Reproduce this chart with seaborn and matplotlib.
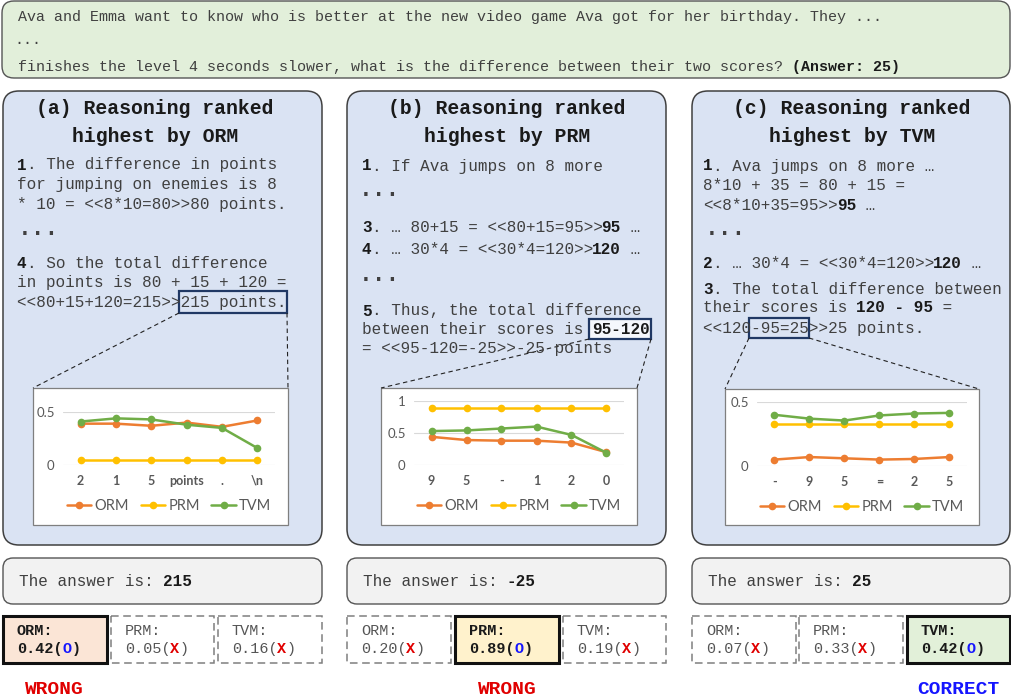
import numpy as np
import pandas as pd
import matplotlib
matplotlib.use('Agg')
import matplotlib.pyplot as plt
from matplotlib.patches import FancyBboxPatch, Rectangle
import seaborn as sns

# ---- values ----
models = ['ORM', 'PRM', 'TVM']
model_colors = ['#ED7D31', '#FFC000', '#70AD47']

tokens_a = ['2', '1', '5', 'points', '.', '\\n']
orm_a = [0.39, 0.39, 0.37, 0.40, 0.36, 0.42]
prm_a = [0.05, 0.05, 0.05, 0.05, 0.05, 0.05]
tvm_a = [0.41, 0.44, 0.43, 0.38, 0.35, 0.16]

tokens_b = ['9', '5', '-', '1', '2', '0']
orm_b = [0.44, 0.39, 0.38, 0.38, 0.35, 0.20]
prm_b = [0.89, 0.89, 0.89, 0.89, 0.89, 0.89]
tvm_b = [0.53, 0.54, 0.57, 0.60, 0.47, 0.19]

tokens_c = ['-', '9', '5', '=', '2', '5']
orm_c = [0.05, 0.07, 0.06, 0.05, 0.055, 0.07]
prm_c = [0.33, 0.33, 0.33, 0.33, 0.33, 0.33]
tvm_c = [0.40, 0.37, 0.355, 0.395, 0.41, 0.415]

final_a = [0.42, 0.05, 0.16]
final_b = [0.20, 0.89, 0.19]
final_c = [0.07, 0.33, 0.42]
answers = ['215', '-25', '25']
picked = [0, 1, 2]          # which model ranked that reasoning highest
verdicts = ['WRONG', 'WRONG', 'CORRECT']

sns.set_theme(style='white')
MONO = 'Liberation Mono'
plt.rcParams['font.family'] = ['Liberation Mono', 'DejaVu Sans Mono']

W, H = 1012, 700
fig = plt.figure(figsize=(W / 100, H / 100), dpi=100)
bg = fig.add_axes([0, 0, 1, 1])
bg.set_xlim(0, W)
bg.set_ylim(H, 0)
bg.axis('off')

REG = '#404040'
BOLD = '#1a1a1a'


def rbox(x0, y0, x1, y1, fc, ec, lw=1.0, r=14):
    bg.add_patch(FancyBboxPatch((x0, y0), x1 - x0, y1 - y0,
                                boxstyle=f'round,pad=0,rounding_size={r}',
                                fc=fc, ec=ec, lw=lw))


def put(x, y, parts, size, reg=REG, bold=BOLD, va='center'):
    # monospace: every char is 0.6 em wide, so segments can be chained
    cw = 0.6 * size * 100 / 72
    n = 0
    for p in parts:
        if isinstance(p, str):
            txt, b, col = p, False, reg
        else:
            txt, b = p[0], p[1]
            col = p[2] if len(p) > 2 else (bold if b else reg)
        bg.text(x + n * cw, y, txt, fontsize=size, fontfamily=MONO,
                fontweight='bold' if b else 'normal', color=col,
                ha='left', va=va)
        n += len(txt)


def dots(x, y):
    bg.text(x, y, '...', fontsize=16.5, fontfamily=MONO, fontweight='bold',
            color=REG, ha='left', va='baseline')


# ---- question box ----
rbox(2, 1, 1010, 78, '#E2EFDA', '#555555', lw=1.0, r=12)
put(18, 17, ['Ava and Emma want to know who is better at the new video game '
             'Ava got for her birthday. They ...'], 10.8)
put(14, 40, ['...'], 10.8)
put(18, 67, ['finishes the level 4 seconds slower, what is the difference '
             'between their two scores? ', ('(Answer: 25)', True)], 10.8)

# ---- reasoning panels ----
panel_x = [(3, 322), (347, 666), (692, 1010)]
title_cx = [155, 507, 852]
letters = ['a', 'b', 'c']
for (x0, x1), cx, let, m in zip(panel_x, title_cx, letters, models):
    rbox(x0, 91, x1, 545, '#DAE3F3', '#404040', lw=1.1, r=16)
    bg.text(cx, 108, f'({let}) Reasoning ranked', fontsize=14.2,
            fontfamily=MONO, fontweight='bold', color=BOLD, ha='center', va='center')
    bg.text(cx, 137, f'highest by {m}', fontsize=14.2,
            fontfamily=MONO, fontweight='bold', color=BOLD, ha='center', va='center')

BS = 11.5
# (a)
put(17, 165, [('1', True), '. The difference in points'], BS)
put(17, 185, ['for jumping on enemies is 8'], BS)
put(17, 204, ['* 10 = <<8*10=80>>80 points.'], BS)
dots(18, 235)
put(17, 263, [('4', True), '. So the total difference'], BS)
put(17, 283, ['in points is 80 + 15 + 120 ='], BS)
bg.add_patch(Rectangle((179, 291), 108, 22, fc='none', ec='#203864', lw=1.6))
put(17, 303, ['<<80+15+120=215>>215 points.'], BS)

# (b)
put(362, 166, [('1', True), '. If Ava jumps on 8 more'], BS)
dots(359, 196)
put(362, 227, [('3', True), '. … 80+15 = <<80+15=95>>', ('95', True), ' …'], BS)
put(362, 250, [('4', True), '. … 30*4 = <<30*4=120>>', ('120', True), ' …'], BS)
dots(359, 281)
put(362, 311, [('5', True), '. Thus, the total difference'], BS)
bg.add_patch(Rectangle((589, 319), 62, 20, fc='#F5F7FC', ec='#203864', lw=1.6))
put(362, 329, ['between their scores is ', ('95-120', True)], BS)
put(362, 349, ['= <<95-120=-25>>-25 points'], BS)

# (c)
put(703, 166, [('1', True), '. Ava jumps on 8 more …'], BS)
put(703, 185, ['8*10 + 35 = 80 + 15 ='], BS)
put(703, 205, ['<<8*10+35=95>>', ('95', True), ' …'], BS)
dots(705, 235)
put(703, 263, [('2', True), '. … 30*4 = <<30*4=120>>', ('120', True), ' …'], BS)
put(703, 290, [('3', True), '. The total difference between'], BS)
put(703, 308, ['their scores is ', ('120 - 95', True), ' ='], BS)
bg.add_patch(Rectangle((749, 318), 60, 20, fc='none', ec='#203864', lw=1.6))
put(703, 328, ['<<120-95=25>>25 points.'], BS)

# ---- zoomed token-level charts ----
frames = [(33, 388, 288, 525), (381, 388, 637, 525), (725, 389, 979, 525)]
connectors = [[(179, 313, 33, 388), (287, 313, 288, 388)],
              [(589, 339, 381, 388), (651, 339, 637, 388)],
              [(749, 338, 725, 389), (809, 338, 979, 389)]]
for (fx0, fy0, fx1, fy1), conn in zip(frames, connectors):
    bg.add_patch(Rectangle((fx0, fy0), fx1 - fx0, fy1 - fy0, fc='white',
                           ec='#7f7f7f', lw=0.9))
    for xa, ya, xb, yb in conn:
        bg.plot([xa, xb], [ya, yb], color='#222222', lw=0.8, ls=(0, (4, 3)))

charts = [
    (tokens_a, [orm_a, prm_a, tvm_a], (63, 412, 275, 465), [0, 0.5], ['0', '0.5'], 506),
    (tokens_b, [orm_b, prm_b, tvm_b], (414, 401, 624, 465), [0, 0.5, 1], ['0', '0.5', '1'], 506),
    (tokens_c, [orm_c, prm_c, tvm_c], (757, 402, 967, 466), [0, 0.5], ['0', '0.5'], 507),
]
palette = dict(zip(models, model_colors))
for tokens, series, (x0, y0, x1, y1), yt, ytl, leg_y in charts:
    ax = fig.add_axes([x0 / W, 1 - y1 / H, (x1 - x0) / W, (y1 - y0) / H])
    n = len(tokens)
    df = pd.DataFrame({
        'pos': np.tile(np.arange(n), len(models)),
        'score': np.concatenate(series),
        'model': np.repeat(models, n),
    })
    sns.lineplot(data=df, x='pos', y='score', hue='model', style='model',
                 palette=palette, markers=['o', 'o', 'o'], dashes=False,
                 markersize=5.5, markeredgewidth=0, linewidth=1.8, ax=ax)
    ax.patch.set_visible(False)
    ax.set_xlim(-0.5, n - 0.5)
    ax.set_ylim(0, yt[-1])
    ax.set_xticks(range(n))
    ax.set_xticklabels(tokens, fontfamily='Lato', fontweight='bold',
                       fontsize=9, color='#595959')
    ax.set_yticks(yt)
    ax.set_yticklabels(ytl, fontfamily='Lato', fontsize=9.5, color='#595959')
    ax.tick_params(length=0)
    ax.tick_params(axis='x', pad=7)
    ax.tick_params(axis='y', pad=6)
    ax.grid(axis='y', color='#d9d9d9', lw=0.8)
    ax.set_axisbelow(True)
    for s in ax.spines.values():
        s.set_visible(False)
    ax.set_xlabel('')
    ax.set_ylabel('')
    sns.move_legend(ax, 'center', bbox_to_anchor=(0.5, (y1 - leg_y) / (y1 - y0)),
                    ncol=3, frameon=False, title=None,
                    prop={'family': 'Lato', 'size': 10.5},
                    handlelength=1.7, handletextpad=0.2, columnspacing=0.8)
    for t in ax.get_legend().get_texts():
        t.set_color('#595959')

# ---- final answers and scores ----
score_boxes = [[(3, 107), (111, 214), (218, 322)],
               [(347, 451), (455, 559), (563, 666)],
               [(692, 796), (799, 903), (907, 1010)]]
pick_fill = ['#FBE5D6', '#FFF2CC', '#E2F0D9']
verdict_cx = [54, 507, 958]
verdict_col = {'WRONG': '#E00000', 'CORRECT': '#1515FF'}
answer_x = [19, 363, 708]
finals = [final_a, final_b, final_c]

for i, ((px0, px1), boxes) in enumerate(zip(panel_x, score_boxes)):
    rbox(px0, 558, px1, 604, '#F2F2F2', '#555555', lw=1.0, r=10)
    put(answer_x[i], 582, ['The answer is: ', (answers[i], True)], BS)
    for j, ((bx0, bx1), m, v) in enumerate(zip(boxes, models, finals[i])):
        top = picked[i] == j
        if top:
            bg.add_patch(Rectangle((bx0, 616), bx1 - bx0, 47, fc=pick_fill[j],
                                   ec='#111111', lw=2.2))
            put(bx0 + 14, 631, [(m + ':', True)], 10.9)
            put(bx0 + 14, 649, [(f'{v:.2f}(', True), ('O', True, '#1515FF'),
                                (')', True)], 10.9)
        else:
            bg.add_patch(Rectangle((bx0, 616), bx1 - bx0, 47, fc='white',
                                   ec='#7f7f7f', lw=1.1, ls=(0, (5, 3))))
            put(bx0 + 14, 631, [m + ':'], 10.9, reg='#555555')
            put(bx0 + 14, 649, [f'{v:.2f}(', ('X', True, '#E00000'), ')'],
                10.9, reg='#555555')
    bg.text(verdict_cx[i], 690, verdicts[i], fontsize=14, fontfamily=MONO,
            fontweight='bold', color=verdict_col[verdicts[i]],
            ha='center', va='center')

fig.savefig('out.png', dpi=100)
